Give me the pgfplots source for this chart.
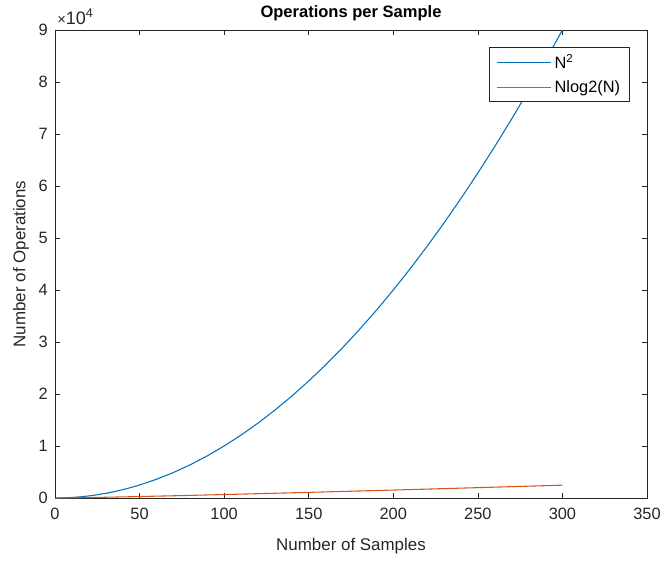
\documentclass[border=0pt]{standalone}
\usepackage{fontspec}
\setmainfont{Liberation Sans}
\usepackage{pgfplots}
\pgfplotsset{compat=1.18}
\definecolor{mblue}{rgb}{0,0.447,0.741}
\definecolor{morange}{rgb}{0.85,0.325,0.098}
\definecolor{maxis}{rgb}{0.15,0.15,0.15}

\begin{document}
\begin{tikzpicture}
\begin{axis}[
    scale only axis,
    width=444pt, height=351pt,
    xmin=0, xmax=350, ymin=0, ymax=90000,
    xtick={0,50,...,350},
    ytick={0,10000,...,90000},
    scaled y ticks=base 10:-4,
    ytick scale label code/.code={},
    tick align=inside,
    major tick length=4pt,
    tick style={maxis, line width=0.5pt},
    axis line style={maxis, line width=0.5pt},
    tick label style={font=\fontsize{12.3}{14}\selectfont, text=maxis},
    xticklabel style={yshift=-4pt},
    yticklabel style={xshift=-2pt},
    /pgf/number format/assume math mode=true,
    title={\textbf{Operations per Sample}},
    every axis title shift=0pt,
    title style={font=\fontsize{12.4}{14}\selectfont, at={(axis description cs:0.5,1.036)}, anchor=center},
    xlabel={Number of Samples},
    ylabel={Number of Operations},
    label style={font=\fontsize{12.7}{14}\selectfont, text=maxis},
    xlabel style={at={(axis description cs:0.5,-0.1026)}, anchor=center},
    ylabel style={at={(axis description cs:-0.0575,0.5)}, anchor=center},
    legend cell align=left,
    legend style={at={(0.971,0.9637)}, anchor=north east, draw=maxis, line width=0.5pt, fill=white,
        font=\fontsize{12.3}{14}\selectfont, row sep=3.5pt, inner xsep=5pt, inner ysep=3.5pt,
        nodes={inner xsep=2pt, text=black}},
    legend image code/.code={\draw[#1] (0pt,0pt) -- (41pt,0pt);},
    clip mode=individual,
]
\addplot[mblue, line width=0.8pt] coordinates {
  (0,0) (5,25) (10,100) (15,225) (20,400) (25,625) (30,900) (35,1225) (40,1600) (45,2025)
  (50,2500) (60,3600) (70,4900) (80,6400) (90,8100) (100,10000) (110,12100) (120,14400)
  (130,16900) (140,19600) (150,22500) (160,25600) (170,28900) (180,32400) (190,36100)
  (200,40000) (210,44100) (220,48400) (230,52900) (240,57600) (250,62500) (260,67600)
  (270,72900) (280,78400) (290,84100) (300,90000)
};
\addlegendentry{N\textsuperscript{2}}
\addplot[morange, line width=0.8pt] coordinates {
  (1,0) (10,33.2) (20,86.4) (30,147.2) (40,212.9) (50,282.2) (60,354.4) (70,429.1)
  (80,505.8) (90,584.3) (100,664.4) (120,828.8) (140,998.1) (160,1171.5) (180,1348.5)
  (200,1528.8) (220,1711.9) (240,1897.7) (260,2085.8) (280,2276.2) (300,2468.6)
};
\addlegendentry{Nlog2(N)}
\node[anchor=base west, inner sep=0pt, font=\fontsize{13.5}{15}\selectfont, text=maxis]
  at ([xshift=1.5pt,yshift=4pt]axis description cs:0,1) {{\fontsize{11}{13}\selectfont ×}10\textsuperscript{4}};
\end{axis}
\pgfresetboundingbox
\path[use as bounding box] ([shift={(-41.25pt,-46.5pt)}]current axis.south west) rectangle ([shift={(12pt,22.5pt)}]current axis.north east);
\end{tikzpicture}
\end{document}
